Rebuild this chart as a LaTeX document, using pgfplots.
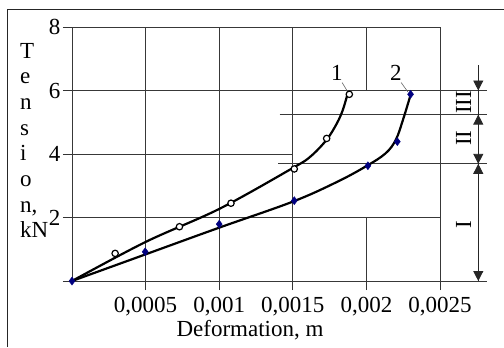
\documentclass[border=0pt]{standalone}
\usepackage{pgfplots}
\pgfplotsset{compat=1.18}
\usepackage{fontspec}
\setmainfont{Liberation Serif}
\usetikzlibrary{arrows.meta}
\definecolor{navyb}{RGB}{0,0,128}
\newcommand{\bigf}{\fontsize{23bp}{27bp}\selectfont}
\begin{document}
\begin{tikzpicture}[x=1bp,y=1bp]
\useasboundingbox (0,0) rectangle (504,347);
\fill[white] (0,0) rectangle (504,347);
\draw[line width=1bp, black!85] (7,0) -- (7,337) -- (504,337);
\foreach \t [count=\i] in {T,e,n,s,i,o,{n,},kN}
  \node[anchor=base west, inner sep=0, font=\bigf] at (20,{347-58-(\i-1)*25.7}) {\t};
\begin{axis}[
  at={(72bp,66bp)}, anchor=south west, scale only axis,
  width=368bp, height=254bp,
  xmin=0, xmax=0.0025, ymin=0, ymax=8,
  clip=false,
  axis line style={draw=none},
  xtick={0.0005,0.001,0.0015,0.002,0.0025},
  xticklabels={{0,0005},{0,001},{0,0015},{0,002},{0,0025}},
  scaled x ticks=false,
  ytick={0,2,4,6,8},
  yticklabels={,2,4,6,8},
  tick align=outside, xtick pos=bottom, ytick pos=left,
  major tick length=9bp,
  tick style={line width=0.9bp, color=black!80},
  tick label style={font=\bigf},
  xticklabel style={yshift=-4bp},
  yticklabel style={xshift=1bp},
  /pgf/number format/assume math mode=true,
  xlabel={Deformation, m},
  xlabel style={at={(axis description cs:0.4837,0)}, anchor=base, yshift=-55bp, font=\bigf},
]
% grid and frame
\draw[line width=0.9bp, black!78]
  (axis cs:0,0) -- (axis cs:0,8)
  (axis cs:0.0005,0) -- (axis cs:0.0005,8)
  (axis cs:0.001,0) -- (axis cs:0.001,8)
  (axis cs:0.0015,0) -- (axis cs:0.0015,8)
  (axis cs:0.002,6) -- (axis cs:0.002,8)
  (axis cs:0.002,0) -- (axis cs:0.002,2)
  (axis cs:0.0025,0) -- (axis cs:0.0025,8)
  (axis cs:0,8) -- (axis cs:0.0025,8)
  (axis cs:0,6) -- (axis cs:0.00282,6)
  (axis cs:0,4) -- (axis cs:0.0015,4)
  (axis cs:0,2) -- (axis cs:0.0025,2)
  (axis cs:0,0) -- (axis cs:0.00282,0)
  (axis cs:0.00141,5.24) -- (axis cs:0.00282,5.24)
  (axis cs:0.0014,3.69) -- (axis cs:0.00282,3.69);
% zone dimension arrows
\draw[line width=0.9bp, black!85] (axis cs:0.00276,6.8) -- (axis cs:0.00276,0);
\begin{scope}[line width=0.9bp, black!85, -{Triangle[width=10bp,length=10bp]}]
\draw (axis cs:0.00276,6.6) -- (axis cs:0.00276,6);
\draw (axis cs:0.00276,4.7) -- (axis cs:0.00276,5.24);
\draw (axis cs:0.00276,4.3) -- (axis cs:0.00276,3.69);
\draw (axis cs:0.00276,3.1) -- (axis cs:0.00276,3.69);
\draw (axis cs:0.00276,0.6) -- (axis cs:0.00276,0);
\end{scope}
\node[rotate=90, font=\bigf] at (axis cs:0.00266,5.63) {III};
\node[rotate=90, font=\bigf] at (axis cs:0.00266,4.5) {II};
\node[rotate=90, font=\bigf] at (axis cs:0.00266,1.76) {I};
% fitted curves
\addplot[no marks, smooth, tension=0.55, line width=2.2bp, black] coordinates {
  (0,0) (0.0005,1.23) (0.001,2.27) (0.0015,3.56) (0.00162,3.92) (0.00173,4.45) (0.0018,4.97) (0.00184,5.39) (0.00187,5.86)};
\addplot[no marks, smooth, tension=0.6, line width=2.2bp, black] coordinates {
  (0,0) (0.0005,0.84) (0.001,1.68) (0.0015,2.5) (0.0018,3.12) (0.002,3.62) (0.00213,4.02) (0.0022,4.45) (0.00225,5.1) (0.0023,5.86)};
% measured points
\addplot[only marks, mark=*, mark size=3.2bp, mark options={draw=black, fill=white, line width=1.2bp}] coordinates {
  (0.000293,0.87) (0.00073,1.71) (0.00108,2.45) (0.00151,3.53) (0.00173,4.49) (0.001884,5.88)};
\addplot[only marks, mark=diamond*, mark size=4bp, mark options={draw=navyb, fill=navyb}] coordinates {
  (0,0) (0.000497,0.92) (0.001,1.79) (0.00151,2.53) (0.00201,3.63) (0.00221,4.39) (0.0023,5.88)};
% curve labels
\node[font=\bigf] at (axis cs:0.0018,6.55) {1};
\node[font=\bigf] at (axis cs:0.0022,6.55) {2};
\draw[line width=0.6bp, black!60] (axis cs:0.001835,6.25) -- (axis cs:0.001873,5.96);
\draw[line width=0.6bp, black!60] (axis cs:0.002236,6.25) -- (axis cs:0.002281,5.96);
\end{axis}
\end{tikzpicture}
\end{document}
